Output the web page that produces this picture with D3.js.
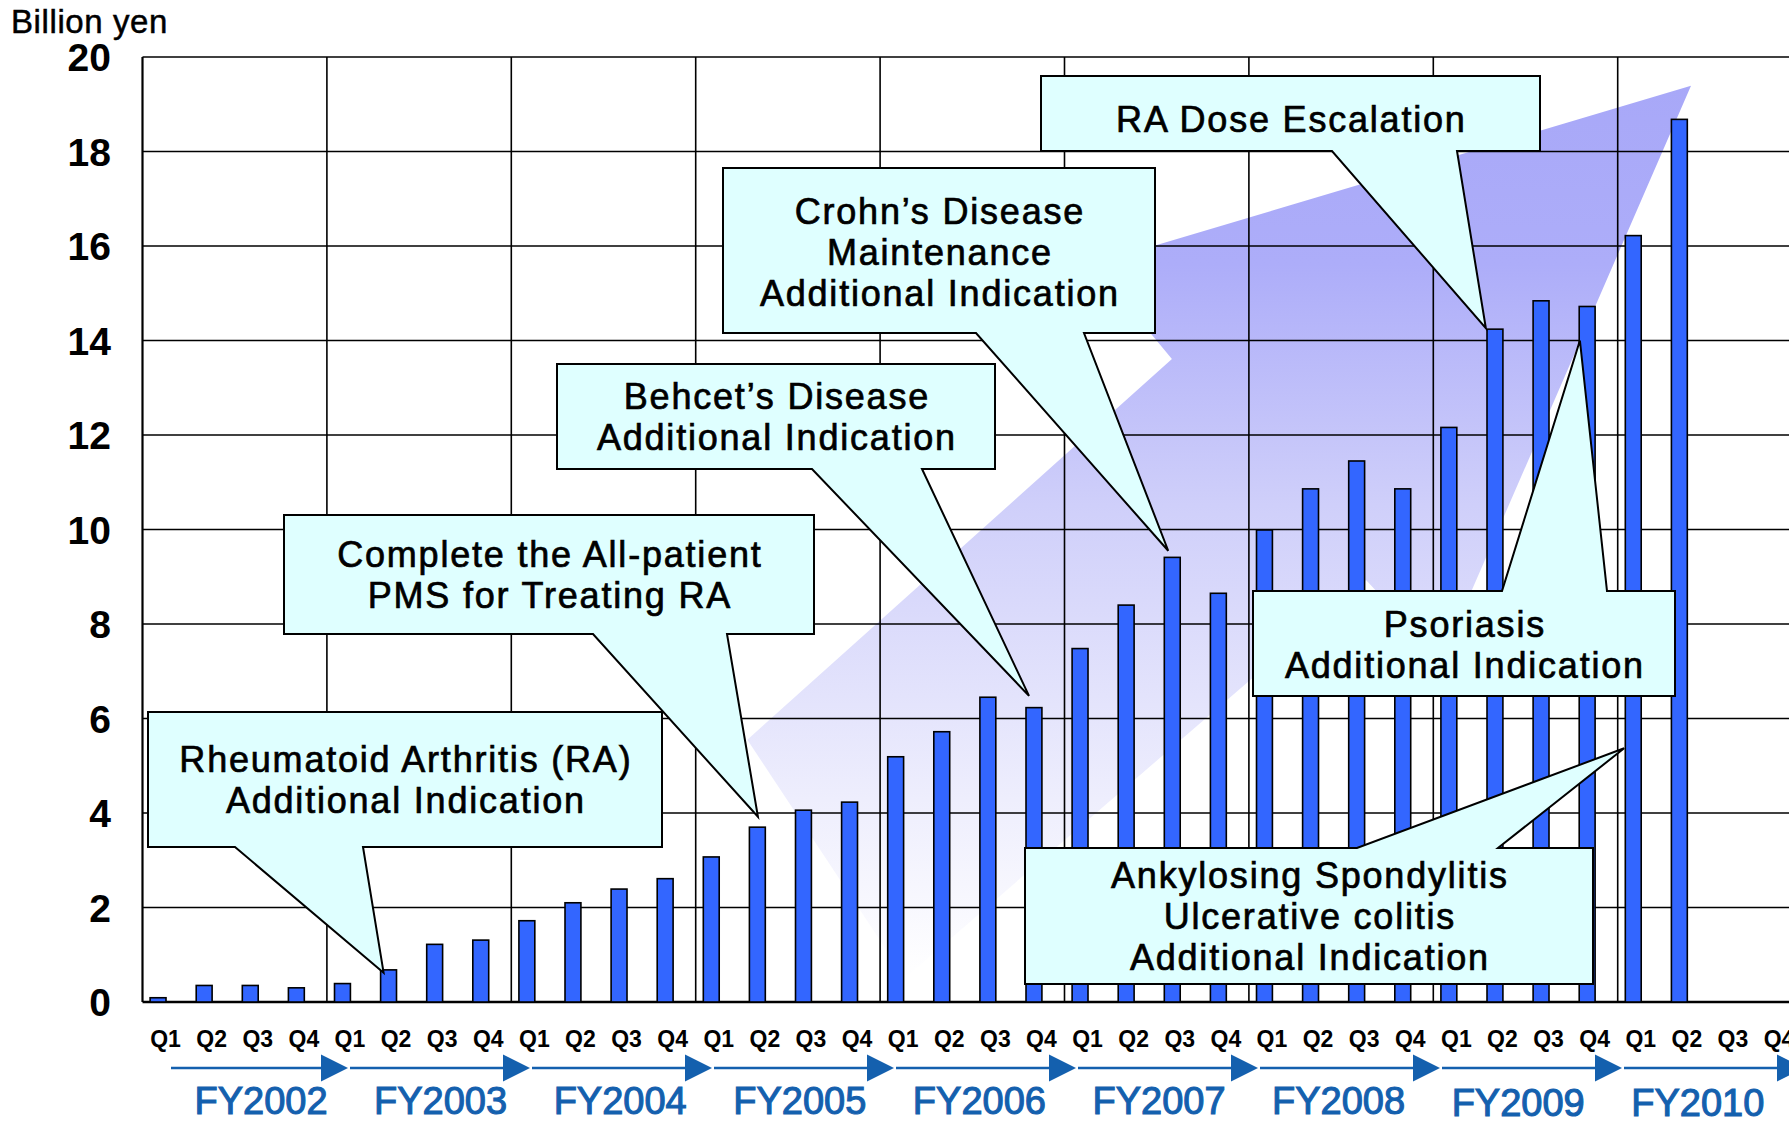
<!DOCTYPE html>
<html><head><meta charset="utf-8">
<script src="https://cdn.jsdelivr.net/npm/d3@7"></script>
<style>
body{margin:0;background:#fff;}
svg{display:block;}
text{font-family:"Liberation Sans",Arial,sans-serif;}
</style>
</head><body>
<svg id="chart" width="1789" height="1123"></svg>
<script>
// ---------------- data ----------------
const fiscalYears = ["FY2002","FY2003","FY2004","FY2005","FY2006","FY2007","FY2008","FY2009","FY2010"];
const quarterNames = ["Q1","Q2","Q3","Q4"];
// quarterly sales, billion yen (FY2010 Q3/Q4 not yet reported)
const sales = [
  0.09, 0.35, 0.35, 0.30,
  0.39, 0.68, 1.22, 1.31,
  1.72, 2.10, 2.39, 2.61,
  3.07, 3.70, 4.06, 4.23,
  5.19, 5.72, 6.45, 6.23,
  7.48, 8.40, 9.41, 8.65,
  9.99, 10.86, 11.45, 10.86,
  12.16, 14.24, 14.84, 14.72,
  16.22, 18.68, null, null
];
const yTicks = [0, 2, 4, 6, 8, 10, 12, 14, 16, 18, 20];
const yUnit = "Billion yen";

// milestone annotations: text lines + which quarter/value they point to
const milestoneText = [
  ["Rheumatoid Arthritis (RA)", "Additional Indication"],
  ["Complete the All-patient", "PMS for Treating RA"],
  ["Behcet’s Disease", "Additional Indication"],
  ["Crohn’s Disease", "Maintenance", "Additional Indication"],
  ["RA Dose Escalation"],
  ["Psoriasis", "Additional Indication"],
  ["Ankylosing Spondylitis", "Ulcerative colitis", "Additional Indication"]
];
const milestoneTipQuarter = [5.23, 13.35, 19.23, 22.25, 29.14, 31.18, 32.14];
const milestoneTipValue   = [0.62, 3.92, 6.48, 9.55, 14.26, 14.0, 5.37];

// ---------------- layout (styles / positions) ----------------
const svg = d3.select("#chart");
const X0 = 142.5, QW = 46.1, NQ = 36;
const Y0 = 1002, Y20 = 57;

const keys = [];
fiscalYears.forEach(fy => quarterNames.forEach(q => keys.push(fy + "-" + q)));

const x = d3.scaleBand().domain(keys).range([X0, X0 + NQ * QW]).padding(0);
const xq = d3.scaleLinear().domain([0, NQ]).range([X0, X0 + NQ * QW]);
const y = d3.scaleLinear().domain([0, 20]).range([Y0, Y20]);
const bw = x.bandwidth();

const defs = svg.append("defs");
const grad = defs.append("linearGradient").attr("id", "bigArrowGrad")
  .attr("gradientUnits", "userSpaceOnUse")
  .attr("x1", 0).attr("x2", 0).attr("y1", y(19.4)).attr("y2", y(0.5));
[[0, "#A8A8F8"], [0.2, "#ADADF9"], [0.47, "#CFCFFA"], [0.8, "#EEEEFD"], [1, "#FFFFFF"]]
  .forEach(s => grad.append("stop").attr("offset", s[0]).attr("stop-color", s[1]));

// background growth arrow (defined in quarter/value space)
const bigArrow = [
  [13.12, 5.55], [22.33, 13.61], [20.62, 15.62], [33.59, 19.39],
  [28.17, 7.22], [26.54, 8.93], [16.54, 0.51]
];
svg.append("path")
  .attr("d", d3.line().x(d => xq(d[0])).y(d => y(d[1]))(bigArrow) + "Z")
  .attr("fill", "url(#bigArrowGrad)");

// horizontal gridlines
svg.append("g").selectAll("line").data(yTicks).join("line")
  .attr("x1", X0).attr("x2", 1800)
  .attr("y1", d => y(d)).attr("y2", d => y(d))
  .attr("stroke", "#000").attr("stroke-width", d => d === 0 ? 2.6 : 1.6);

// vertical year gridlines
svg.append("g").selectAll("line").data(d3.range(0, fiscalYears.length + 1)).join("line")
  .attr("x1", d => xq(d * 4)).attr("x2", d => xq(d * 4))
  .attr("y1", y(20)).attr("y2", y(0))
  .attr("stroke", "#000").attr("stroke-width", d => d === 0 ? 2.2 : 1.6);

// y tick labels
svg.append("g").selectAll("text").data(yTicks).join("text")
  .attr("x", 111).attr("y", d => y(d)).attr("dy", "0.37em")
  .attr("text-anchor", "end")
  .attr("font-size", 39).attr("font-weight", "bold")
  .text(d => d);

svg.append("text").attr("x", 11).attr("y", 33)
  .attr("font-size", 33).attr("letter-spacing", 0.6)
  .attr("stroke", "#000").attr("stroke-width", 0.5).text(yUnit);

// bars
svg.append("g").selectAll("rect").data(keys.map((k, i) => ({k, v: sales[i]})).filter(d => d.v != null))
  .join("rect")
  .attr("x", d => x(d.k) + bw * 0.165)
  .attr("width", bw * 0.345)
  .attr("y", d => y(d.v))
  .attr("height", d => y(0) - y(d.v))
  .attr("fill", "#3366FF").attr("stroke", "#000").attr("stroke-width", 1.6);

// quarter labels
svg.append("g").selectAll("text").data(keys).join("text")
  .attr("x", d => x(d) + bw / 2).attr("y", 1047)
  .attr("text-anchor", "middle")
  .attr("font-size", 23).attr("font-weight", "bold")
  .text(d => d.split("-")[1]);

// fiscal year arrows
const arrowStart = 171, firstTip = 348, arrowStep = 182, headL = 27, headH = 13.5;
const fyBlue = "#1460AE";
const ga = svg.append("g");
fiscalYears.forEach((fy, i) => {
  const tip = firstTip + arrowStep * i;
  const start = i === 0 ? arrowStart : firstTip + arrowStep * (i - 1) + 2;
  ga.append("line").attr("x1", start).attr("x2", tip - headL + 2)
    .attr("y1", 1068).attr("y2", 1068).attr("stroke", fyBlue).attr("stroke-width", 2.6);
  ga.append("path").attr("d", `M${tip - headL},${1068 - headH}L${tip},1068L${tip - headL},${1068 + headH}Z`)
    .attr("fill", fyBlue);
  ga.append("text").attr("x", 261 + 179.6 * i).attr("y", i >= 7 ? 1116 : 1114)
    .attr("text-anchor", "middle").attr("font-size", 38).attr("fill", fyBlue)
    .attr("stroke", fyBlue).attr("stroke-width", 1.1)
    .text(fy);
});

// callouts
const calloutBoxes = [
  {x1:148, y1:712, x2:662, y2:847, side:"bottom", b1:235, b2:363, dy:0},
  {x1:284, y1:515, x2:814, y2:634, side:"bottom", b1:593, b2:727, dy:0},
  {x1:557, y1:364, x2:995, y2:469, side:"bottom", b1:812, b2:922, dy:0},
  {x1:723, y1:168, x2:1155, y2:333, side:"bottom", b1:976, b2:1084, dy:1},
  {x1:1041, y1:76, x2:1540, y2:151, side:"bottom", b1:1332, b2:1457, dy:5},
  {x1:1253, y1:591, x2:1675, y2:696, side:"top", b1:1502, b2:1607, dy:1},
  {x1:1025, y1:848, x2:1593, y2:984, side:"top", b1:1357, b2:1498, dy:0}
];
const gc = svg.append("g");
calloutBoxes.forEach((b, i) => {
  const tx = xq(milestoneTipQuarter[i]), ty = y(milestoneTipValue[i]);
  let d;
  if (b.side === "bottom") {
    d = `M${b.x1},${b.y1}L${b.x2},${b.y1}L${b.x2},${b.y2}L${b.b2},${b.y2}L${tx},${ty}L${b.b1},${b.y2}L${b.x1},${b.y2}Z`;
  } else {
    d = `M${b.x1},${b.y1}L${b.b1},${b.y1}L${tx},${ty}L${b.b2},${b.y1}L${b.x2},${b.y1}L${b.x2},${b.y2}L${b.x1},${b.y2}Z`;
  }
  gc.append("path").attr("d", d).attr("fill", "#DFFFFF").attr("stroke", "#000")
    .attr("stroke-width", 2).attr("stroke-linejoin", "miter");
  const lines = milestoneText[i];
  const cx = (b.x1 + b.x2) / 2, cy = (b.y1 + b.y2) / 2 + b.dy;
  const L = 41;
  lines.forEach((t, j) => {
    gc.append("text").attr("x", cx + 0.9).attr("y", cy - (lines.length - 1) * L / 2 + j * L + 13)
      .attr("text-anchor", "middle").attr("font-size", 36).attr("letter-spacing", 1.8)
      .attr("stroke", "#000").attr("stroke-width", 0.7)
      .text(t);
  });
});
</script>
</body></html>
